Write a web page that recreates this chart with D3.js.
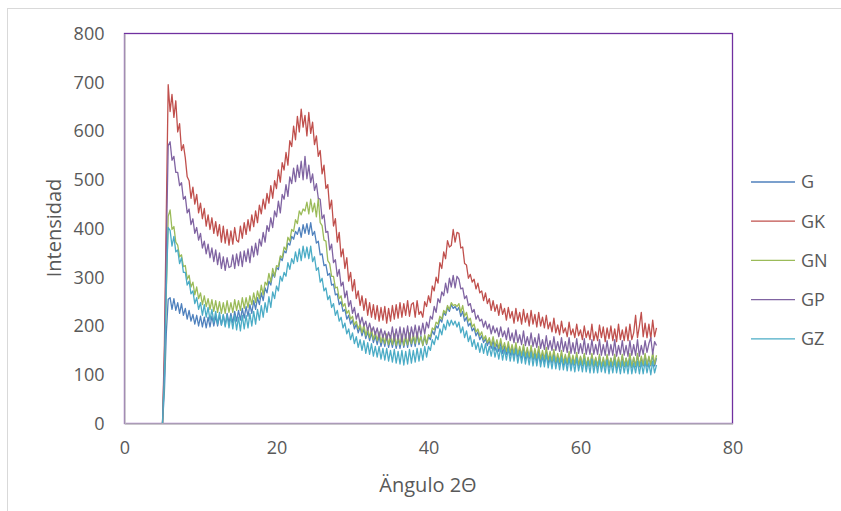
<!DOCTYPE html>
<html>
<head>
<meta charset="utf-8">
<script src="https://cdn.jsdelivr.net/npm/d3@7"></script>
<style>
  body { margin: 0; background: #fff; }
  text { font-family: "Open Sans", sans-serif; fill: #595959; }
</style>
</head>
<body>
<div id="plot"></div>
<script>
// Angle grid: 5 to 70 deg, step 0.25
const angle = d3.range(5, 70.0001, 0.25);

const seriesNames = ["G", "GK", "GN", "GP", "GZ"];
const colors = ["#4f81bd", "#c0504d", "#9bbb59", "#8064a2", "#4bacc6"];
const xTicks = [0, 20, 40, 60, 80];
const yTicks = [0, 100, 200, 300, 400, 500, 600, 700, 800];

// Intensity values (one row per degree, 4 points each)
const G = [
  0, 65, 185, 255, 258, 234, 256, 232, 248, 226, 246, 222, 236, 214, 232, 210,
  224, 204, 222, 200, 220, 198, 218, 196, 218, 198, 220, 200, 220, 200, 222, 202,
  222, 202, 226, 206, 226, 206, 230, 210, 232, 212, 236, 216, 240, 220, 244, 226,
  252, 234, 258, 244, 268, 252, 278, 268, 292, 284, 308, 300, 320, 316, 340, 334,
  354, 350, 370, 366, 384, 378, 394, 388, 402, 382, 408, 390, 410, 388, 412, 386,
  394, 370, 374, 346, 348, 324, 326, 304, 308, 284, 286, 264, 266, 244, 250, 230,
  234, 214, 222, 204, 212, 194, 204, 186, 198, 180, 194, 174, 188, 170, 186, 166,
  180, 162, 180, 158, 176, 158, 178, 156, 174, 156, 176, 154, 174, 154, 176, 156,
  176, 156, 178, 158, 178, 158, 182, 162, 180, 160, 178, 162, 178, 172, 190, 182,
  200, 196, 214, 208, 228, 222, 238, 230, 244, 236, 240, 232, 238, 220, 230, 210,
  218, 200, 206, 190, 196, 180, 188, 172, 180, 166, 174, 160, 170, 154, 170, 150,
  164, 148, 166, 144, 158, 142, 160, 140, 156, 138, 158, 136, 152, 134, 156, 132,
  150, 132, 154, 130, 146, 128, 152, 126, 144, 126, 150, 124, 140, 124, 146, 122,
  138, 122, 144, 120, 138, 120, 142, 118, 136, 120, 140, 118, 136, 118, 140, 116,
  134, 118, 140, 116, 134, 116, 138, 116, 132, 116, 138, 114, 134, 116, 138, 114,
  132, 116, 138, 116, 134, 116, 138, 114, 134, 116, 140, 116, 134, 118, 140, 116,
  136, 118, 140, 118, 134
];
const GK = [
  0, 160, 430, 695, 640, 675, 628, 662, 598, 615, 560, 572, 545, 506, 498, 462,
  485, 450, 470, 432, 452, 420, 441, 405, 428, 398, 422, 390, 414, 385, 408, 372,
  405, 370, 398, 366, 395, 368, 402, 376, 372, 405, 380, 412, 388, 418, 395, 428,
  404, 436, 412, 448, 430, 460, 440, 472, 452, 488, 462, 498, 482, 520, 495, 535,
  520, 556, 530, 580, 568, 610, 582, 630, 598, 645, 608, 632, 590, 638, 595, 618,
  572, 590, 548, 560, 512, 530, 482, 490, 440, 458, 405, 420, 372, 392, 342, 358,
  318, 340, 292, 310, 272, 295, 256, 272, 242, 262, 232, 256, 222, 248, 218, 244,
  214, 242, 210, 238, 212, 240, 206, 236, 210, 242, 214, 244, 216, 248, 218, 246,
  222, 252, 220, 244, 248, 218, 252, 224, 230, 218, 250, 240, 262, 248, 282, 272,
  300, 288, 330, 318, 352, 338, 375, 362, 365, 398, 372, 392, 390, 360, 362, 328,
  325, 298, 306, 290, 296, 276, 288, 268, 272, 252, 268, 246, 256, 232, 252, 230,
  244, 222, 246, 224, 236, 212, 238, 216, 230, 206, 236, 210, 228, 204, 234, 208,
  226, 200, 232, 204, 224, 198, 228, 200, 218, 196, 222, 194, 208, 188, 216, 186,
  202, 182, 210, 186, 196, 178, 208, 182, 194, 176, 204, 180, 192, 172, 200, 176,
  190, 172, 204, 170, 188, 170, 202, 176, 198, 168, 196, 174, 200, 170, 194, 168,
  204, 172, 192, 170, 198, 170, 204, 172, 186, 222, 176, 200, 228, 178, 206, 176,
  204, 174, 212, 178, 196
];
const GN = [
  0, 100, 270, 425, 438, 398, 404, 372, 366, 342, 346, 322, 324, 296, 304, 280,
  290, 264, 280, 256, 268, 244, 262, 240, 256, 234, 254, 230, 252, 228, 250, 226,
  248, 226, 252, 228, 248, 228, 254, 232, 252, 232, 258, 236, 258, 238, 262, 244,
  268, 248, 272, 256, 284, 264, 290, 284, 308, 290, 318, 302, 324, 322, 344, 340,
  362, 356, 382, 374, 398, 394, 418, 410, 436, 428, 440, 436, 454, 430, 460, 434,
  452, 424, 462, 412, 406, 376, 374, 334, 328, 302, 302, 278, 280, 256, 262, 240,
  246, 226, 232, 214, 220, 202, 210, 194, 204, 186, 202, 180, 196, 176, 194, 172,
  188, 170, 188, 166, 182, 164, 184, 162, 180, 162, 184, 160, 180, 162, 184, 160,
  182, 162, 186, 164, 184, 164, 188, 166, 178, 160, 182, 164, 182, 178, 196, 192,
  208, 204, 220, 214, 232, 226, 242, 234, 248, 242, 244, 240, 246, 228, 242, 220,
  228, 210, 216, 198, 204, 188, 194, 180, 188, 172, 180, 166, 176, 160, 178, 158,
  172, 154, 174, 152, 166, 148, 168, 146, 162, 144, 166, 142, 158, 140, 162, 138,
  156, 136, 160, 134, 154, 134, 158, 132, 150, 132, 156, 130, 148, 128, 152, 126,
  144, 126, 150, 124, 142, 124, 148, 122, 140, 122, 146, 120, 138, 120, 144, 118,
  136, 118, 144, 118, 136, 118, 142, 116, 136, 116, 142, 118, 134, 118, 142, 116,
  136, 116, 142, 118, 134, 118, 144, 116, 136, 118, 144, 118, 138, 120, 144, 120,
  138, 120, 146, 122, 140
];
const GP = [
  0, 130, 360, 570, 578, 540, 548, 515, 515, 488, 494, 460, 466, 432, 440, 408,
  420, 390, 402, 376, 390, 360, 374, 348, 368, 340, 360, 332, 356, 326, 350, 318,
  342, 314, 340, 320, 322, 346, 318, 348, 324, 352, 322, 354, 332, 358, 330, 364,
  342, 370, 346, 378, 364, 392, 372, 406, 394, 422, 402, 436, 424, 456, 432, 470,
  460, 490, 466, 506, 492, 524, 496, 530, 505, 538, 500, 548, 502, 530, 494, 512,
  478, 492, 462, 460, 420, 428, 392, 394, 356, 368, 330, 336, 302, 316, 282, 290,
  258, 272, 240, 252, 226, 238, 214, 226, 204, 218, 200, 210, 190, 206, 188, 198,
  182, 196, 176, 194, 176, 190, 172, 188, 174, 198, 170, 194, 172, 198, 168, 196,
  174, 200, 170, 198, 178, 202, 176, 200, 182, 206, 184, 208, 196, 220, 214, 240,
  228, 256, 248, 270, 262, 288, 268, 298, 280, 304, 278, 302, 296, 276, 278, 256,
  262, 242, 246, 228, 234, 214, 222, 210, 214, 198, 210, 194, 204, 184, 200, 186,
  196, 178, 198, 178, 190, 172, 196, 170, 186, 166, 192, 166, 182, 162, 190, 160,
  178, 160, 186, 158, 176, 156, 184, 154, 172, 152, 180, 152, 170, 150, 178, 150,
  168, 148, 176, 148, 168, 146, 176, 144, 166, 144, 174, 144, 164, 144, 174, 142,
  164, 142, 172, 142, 162, 142, 172, 140, 162, 140, 170, 140, 162, 140, 172, 138,
  160, 142, 170, 140, 160, 138, 170, 140, 162, 140, 172, 138, 160, 142, 170, 146,
  164, 176, 142, 168, 160
];
const GZ = [
  0, 95, 280, 402, 396, 364, 384, 352, 356, 328, 340, 310, 310, 284, 292, 266,
  272, 246, 258, 234, 248, 222, 244, 218, 238, 212, 234, 208, 230, 204, 228, 202,
  224, 198, 222, 196, 220, 194, 222, 192, 218, 190, 222, 194, 222, 196, 226, 200,
  230, 204, 234, 212, 242, 218, 248, 228, 260, 238, 270, 256, 282, 272, 302, 292,
  310, 302, 330, 316, 338, 328, 352, 332, 358, 334, 364, 340, 362, 338, 364, 332,
  342, 314, 320, 290, 298, 272, 278, 254, 262, 238, 246, 222, 232, 210, 218, 196,
  206, 184, 194, 172, 186, 164, 178, 156, 172, 150, 170, 144, 166, 142, 164, 138,
  158, 136, 158, 132, 154, 130, 154, 128, 150, 126, 152, 124, 148, 122, 150, 120,
  148, 122, 152, 124, 150, 126, 154, 128, 154, 130, 158, 136, 158, 150, 172, 162,
  180, 172, 194, 182, 204, 192, 212, 200, 212, 202, 210, 198, 208, 186, 198, 176,
  190, 168, 180, 158, 172, 152, 166, 146, 164, 144, 164, 140, 158, 138, 160, 136,
  154, 132, 156, 130, 152, 130, 154, 128, 150, 128, 152, 124, 148, 124, 148, 122,
  144, 120, 146, 118, 142, 118, 144, 116, 138, 116, 142, 114, 136, 112, 138, 112,
  134, 110, 136, 110, 132, 108, 134, 108, 130, 106, 134, 108, 128, 106, 132, 106,
  128, 104, 132, 104, 128, 104, 130, 106, 126, 104, 130, 102, 126, 104, 130, 104,
  126, 102, 128, 104, 126, 102, 130, 102, 124, 104, 128, 102, 126, 102, 128, 104,
  124, 100, 128, 104, 120
];

const seriesValues = [G, GK, GN, GP, GZ];

const W = 841, H = 511;
const plot = {left: 124.5, right: 732.5, top: 33.5, bottom: 423.5};

const svg = d3.select("#plot")
  .append("svg")
  .attr("width", W)
  .attr("height", H);

// chart frame
svg.append("rect")
  .attr("x", 7.5).attr("y", 8.5)
  .attr("width", 900).attr("height", 600)
  .attr("fill", "#fff")
  .attr("stroke", "#d9d9d9");

const x = d3.scaleLinear().domain([0, 80]).range([plot.left, plot.right]);
const y = d3.scaleLinear().domain([0, 800]).range([plot.bottom, plot.top]);

// plot area border (purple top/right)
svg.append("rect")
  .attr("x", plot.left).attr("y", plot.top)
  .attr("width", plot.right - plot.left)
  .attr("height", plot.bottom - plot.top)
  .attr("fill", "none")
  .attr("stroke", "#7030a0")
  .attr("stroke-width", 1.3);

// the series
const line = d3.line()
  .x((d, i) => x(angle[i]))
  .y(d => y(d));

seriesValues.forEach((vals, k) => {
  svg.append("path")
    .datum(vals)
    .attr("fill", "none")
    .attr("stroke", colors[k])
    .attr("stroke-width", 1.3)
    .attr("stroke-linejoin", "round")
    .attr("d", line);
});

// axes
const xAxis = svg.append("g")
  .attr("transform", `translate(0,${plot.bottom})`)
  .call(d3.axisBottom(x).tickValues(xTicks).tickSize(0).tickPadding(18));
const yAxis = svg.append("g")
  .attr("transform", `translate(${plot.left},0)`)
  .call(d3.axisLeft(y).tickValues(yTicks).tickSize(0).tickPadding(20));

[xAxis, yAxis].forEach(g => {
  g.select(".domain").attr("stroke", "#bfbfbf").attr("stroke-width", 1.3);
  g.selectAll("text")
    .attr("font-family", "Open Sans, sans-serif")
    .attr("font-size", 18)
    .attr("fill", "#595959");
});

// axis titles
svg.append("text")
  .attr("x", 428).attr("y", 492)
  .attr("text-anchor", "middle")
  .attr("font-size", 20)
  .text("Ängulo 2Θ");

svg.append("text")
  .attr("transform", "translate(61,228) rotate(-90)")
  .attr("text-anchor", "middle")
  .attr("font-size", 20)
  .text("Intensidad");

// legend
const legend = svg.append("g");
seriesNames.forEach((name, k) => {
  const ly = 182 + k * 39.2;
  legend.append("line")
    .attr("x1", 751).attr("x2", 795)
    .attr("y1", ly).attr("y2", ly)
    .attr("stroke", colors[k])
    .attr("stroke-width", 1.3);
  legend.append("text")
    .attr("x", 801).attr("y", ly)
    .attr("dy", "0.35em")
    .attr("font-size", 18)
    .text(name);
});
</script>
</body>
</html>
